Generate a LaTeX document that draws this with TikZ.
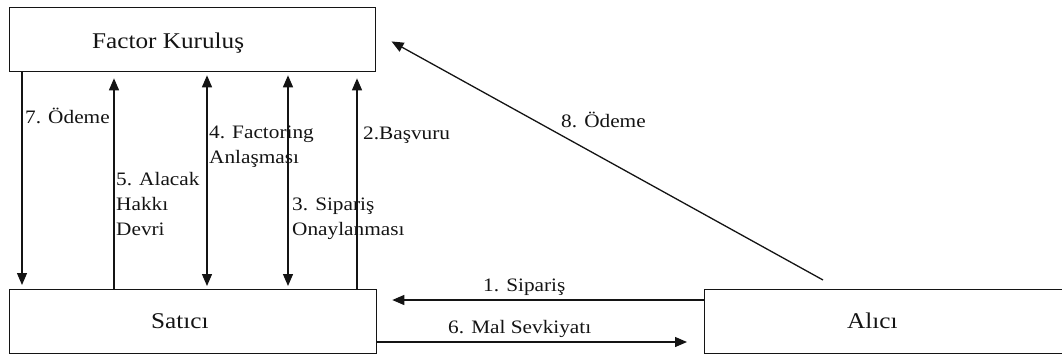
\documentclass[tikz,border=0pt]{standalone}
\usepackage{fontspec}
\setmainfont{Liberation Serif}[FakeStretch=1.12]
\usetikzlibrary{arrows.meta}
\definecolor{ink}{HTML}{141414}
\begin{document}
\begin{tikzpicture}[x=1pt,y=-1pt,
  box/.style={draw=ink,line width=1.3pt,rectangle,inner sep=0pt,anchor=north west},
  flow/.style={draw=ink,line width=1.3pt,-{Triangle[length=12pt,width=10pt]}},
  both/.style={draw=ink,line width=1.3pt,{Triangle[length=12pt,width=10pt]}-{Triangle[length=12pt,width=10pt]}},
  lbl/.style={anchor=base west,inner sep=0pt,align=left,font=\fontsize{19}{25}\selectfont,text=ink},
  title/.style={anchor=base west,inner sep=0pt,font=\fontsize{22.5}{26}\selectfont,text=ink}]
\useasboundingbox (0,0) rectangle (1062,354);
\clip (0,0) rectangle (1062,354);

% parties
\node[box,minimum width=366pt,minimum height=64pt] (fk) at (9,7) {};
\node[box,minimum width=367pt,minimum height=64pt] (sat) at (9,289) {};
\node[box,minimum width=362pt,minimum height=64pt] (alc) at (704,289) {};
\node[title] (fkt) at (92,48) {Factor Kuruluş};
\node[title] (satt) at (151,328) {Satıcı};
\node[title] (alct) at (847,328) {Alıcı};

% flows between factor and seller
\draw[flow,shorten >=4pt] (fk.south -| 22,0) -- (sat.north -| 22,0);
\draw[flow,shorten >=6pt] (sat.north -| 114,0) -- (fk.south -| 114,0);
\draw[both,shorten >=3pt,shorten <=3pt] (fk.south -| 207,0) -- (sat.north -| 207,0);
\draw[both,shorten >=3pt,shorten <=3pt] (fk.south -| 288,0) -- (sat.north -| 288,0);
\draw[flow,shorten >=6pt] (sat.north -| 357,0) -- (fk.south -| 357,0);

% flows with the buyer
\draw[flow,shorten >=15pt] (alc.west |- 0,300) -- (sat.east |- 0,300);
\draw[flow,shorten >=17pt] (sat.east |- 0,342) -- (alc.west |- 0,342);
\coordinate (o8) at (823,280);
\draw[flow,shorten >=14pt] (o8) -- ([shift={(3,-5)}]fk.east);

% labels (multi-line ones are placed by the baseline of their last line)
\node[lbl] (l7) at (25,123) {7. Ödeme};
\node[lbl] (l4) at (209,163) {4. Factoring\\Anlaşması};
\node[lbl] (l5) at (116,235) {5. Alacak\\Hakkı\\Devri};
\node[lbl] (l3) at (292,235) {3. Sipariş\\Onaylanması};
\node[lbl] (l2) at (363,139) {2.Başvuru};
\node[lbl] (l8) at (561,127) {8. Ödeme};
\node[lbl] (l1) at (483,291) {1. Sipariş};
\node[lbl] (l6) at (448,333) {6. Mal Sevkiyatı};
\end{tikzpicture}
\end{document}
